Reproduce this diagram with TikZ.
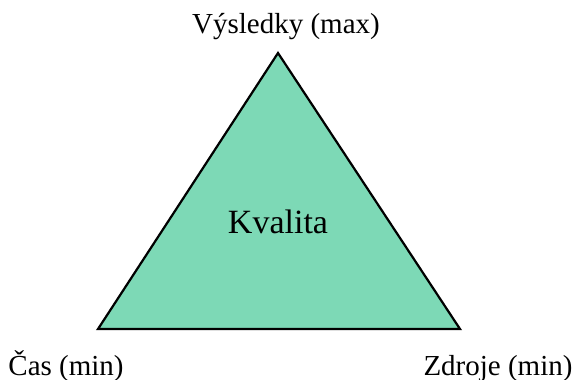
\documentclass[tikz,border=0pt]{standalone}
\usepackage{fontspec}
\setmainfont{Liberation Serif}
\definecolor{tri}{RGB}{125,217,182}
\begin{document}
\begin{tikzpicture}[x=1pt,y=-1pt,
  lbl/.style={font=\fontsize{29}{34}\selectfont, inner sep=0pt, anchor=base},
  big/.style={font=\fontsize{34}{40}\selectfont, inner sep=0pt, anchor=base}]
\useasboundingbox (0,0) rectangle (576,380);
\coordinate (A) at (278,53);
\coordinate (B) at (98,329);
\coordinate (C) at (460,329);
\filldraw[fill=tri, draw=black, line width=2.2pt, line join=miter] (A) -- (B) -- (C) -- cycle;
\node[lbl] (top) at (286,33) {Výsledky (max)};
\node[lbl] (left) at (66,375) {Čas (min)};
\node[lbl] (right) at (498,375) {Zdroje (min)};
\node[big] (mid) at (278,233) {Kvalita};
\end{tikzpicture}
\end{document}
